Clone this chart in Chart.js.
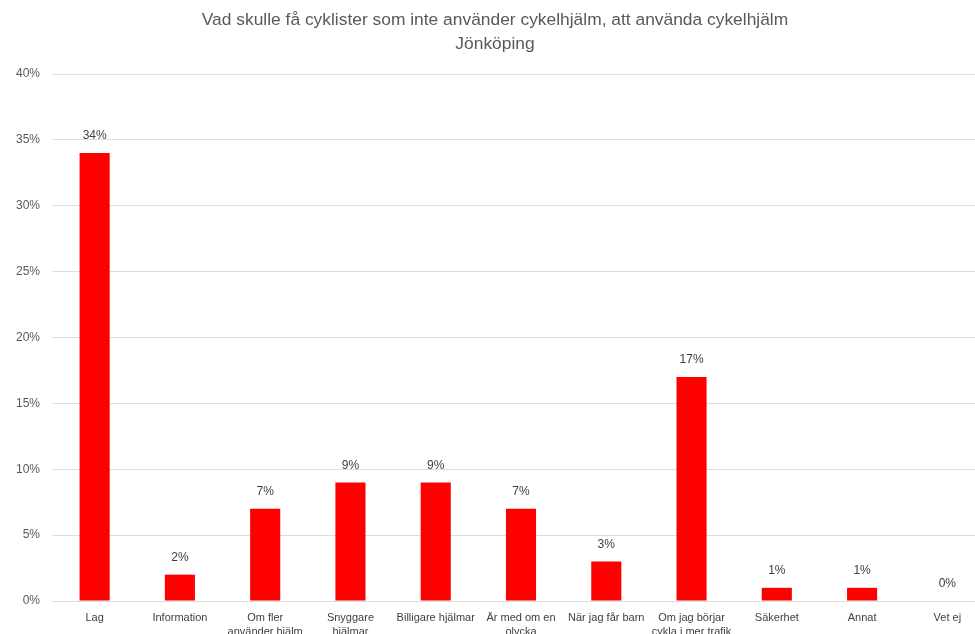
<!DOCTYPE html>
<html>
<head>
<meta charset="utf-8">
<script src="https://cdn.jsdelivr.net/npm/chart.js@4"></script>
<style>
  html, body { margin: 0; padding: 0; background: #fff; overflow: hidden; }
</style>
</head>
<body>
<canvas id="chart" width="990" height="660"></canvas>
<script>
const titleLines = ['Vad skulle få cyklister som inte använder cykelhjälm, att använda cykelhjälm', 'Jönköping'];
const categories = [
  'Lag',
  'Information',
  ['Om fler', 'använder hjälm'],
  ['Snyggare', 'hjälmar'],
  'Billigare hjälmar',
  ['Är med om en', 'olycka'],
  'När jag får barn',
  ['Om jag börjar', 'cykla i mer trafik'],
  'Säkerhet',
  'Annat',
  'Vet ej'
];
const shares = [34, 2, 7, 9, 9, 7, 3, 17, 1, 1, 0];
const yTicks = [0, 5, 10, 15, 20, 25, 30, 35, 40];

const canvasHeight = 660;
const plotLeft = 52;
const plotBottom = 601;

// labels above each bar
const barLabels = {
  id: 'barLabels',
  afterDatasetsDraw(chart) {
    const ctx = chart.ctx;
    const meta = chart.getDatasetMeta(0);
    ctx.save();
    ctx.font = '12px "Liberation Sans", Arial, sans-serif';
    ctx.fillStyle = '#404040';
    ctx.textAlign = 'center';
    ctx.textBaseline = 'middle';
    meta.data.forEach((bar, i) => {
      ctx.fillText(shares[i] + '%', bar.x, bar.y - 17);
    });
    ctx.restore();
  }
};

new Chart(document.getElementById('chart'), {
  type: 'bar',
  data: {
    labels: categories,
    datasets: [{
      data: shares,
      backgroundColor: '#ff0000',
      borderWidth: 0,
      barPercentage: 0.353,
      categoryPercentage: 1
    }]
  },
  options: {
    responsive: false,
    animation: false,
    layout: { padding: 0 },
    plugins: {
      legend: { display: false },
      tooltip: { enabled: false },
      title: {
        display: true,
        text: titleLines,
        color: '#595959',
        font: { family: '"Liberation Sans", Arial, sans-serif', size: 17.4, weight: 'normal', lineHeight: 1.38 },
        padding: { top: 8, bottom: 18 }
      }
    },
    scales: {
      x: {
        grid: { display: false },
        border: { display: false },
        ticks: {
          color: '#404040',
          font: { family: '"Liberation Sans", Arial, sans-serif', size: 11, lineHeight: 1.27 },
          maxRotation: 0,
          autoSkip: false,
          padding: 2
        },
        afterFit(scale) { scale.height = canvasHeight - plotBottom; }
      },
      y: {
        min: 0,
        max: 40,
        afterBuildTicks(scale) { scale.ticks = yTicks.map(v => ({ value: v })); },
        grid: { color: '#dddddd', drawTicks: false },
        border: { display: false },
        ticks: {
          color: '#595959',
          font: { family: '"Liberation Sans", Arial, sans-serif', size: 12 },
          padding: 12,
          callback: v => v + '%'
        },
        afterFit(scale) { scale.width = plotLeft; }
      }
    }
  },
  plugins: [barLabels]
});
</script>
</body>
</html>
